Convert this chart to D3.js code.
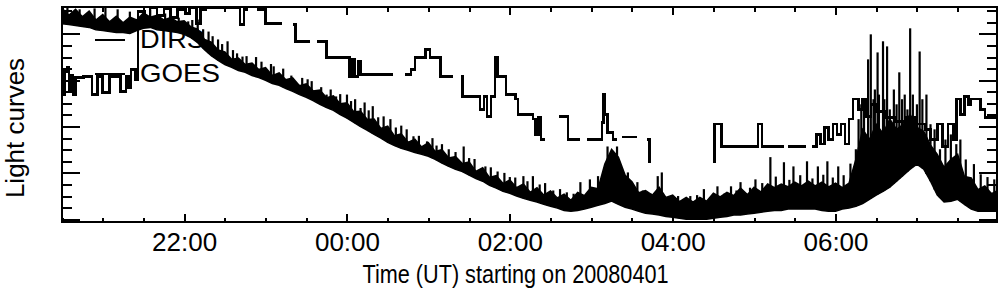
<!DOCTYPE html>
<html>
<head>
<meta charset="utf-8">
<script src="https://cdn.jsdelivr.net/npm/d3@7"></script>
<style>
body { margin: 0; background: #fff; }
text { font-family: "Liberation Sans", Arial, sans-serif; fill: #000; }
</style>
</head>
<body>
<div id="chart"></div>
<script>
// light curve every 5 minutes: lower edge and top of the dense part of the trace
var irsTime = ["20:30","20:35","20:40","20:45","20:50","20:55","21:00","21:05","21:10","21:15","21:20","21:25",
  "21:30","21:35","21:40","21:45","21:50","21:55","22:00","22:05","22:10","22:15","22:20","22:25",
  "22:30","22:35","22:40","22:45","22:50","22:55","23:00","23:05","23:10","23:15","23:20","23:25",
  "23:30","23:35","23:40","23:45","23:50","23:55","00:00","00:05","00:10","00:15","00:20","00:25",
  "00:30","00:35","00:40","00:45","00:50","00:55","01:00","01:05","01:10","01:15","01:20","01:25",
  "01:30","01:35","01:40","01:45","01:50","01:55","02:00","02:05","02:10","02:15","02:20","02:25",
  "02:30","02:35","02:40","02:45","02:50","02:55","03:00","03:05","03:10","03:15","03:20","03:25",
  "03:30","03:35","03:40","03:45","03:50","03:55","04:00","04:05","04:10","04:15","04:20","04:25",
  "04:30","04:35","04:40","04:45","04:50","04:55","05:00","05:05","05:10","05:15","05:20","05:25",
  "05:30","05:35","05:40","05:45","05:50","05:55","06:00","06:05","06:10","06:15","06:20","06:25",
  "06:30","06:35","06:40","06:45","06:50","06:55","07:00","07:05","07:10","07:15","07:20","07:25",
  "07:30","07:35","07:40","07:45","07:50","07:55","08:00"];
var irsLow = [4.22,4.20,4.18,4.16,4.14,4.09,4.07,4.05,4.03,4.03,4.01,4.07,
  4.12,4.14,4.09,4.07,4.05,4.03,3.99,3.92,3.81,3.66,3.53,3.43,
  3.34,3.28,3.21,3.17,3.10,3.06,3.00,2.93,2.89,2.82,2.76,2.69,
  2.63,2.56,2.48,2.41,2.35,2.26,2.18,2.09,2.00,1.92,1.83,1.75,
  1.66,1.59,1.53,1.49,1.44,1.40,1.36,1.29,1.21,1.14,1.08,1.03,
  0.95,0.88,0.82,0.73,0.67,0.60,0.56,0.50,0.45,0.41,0.37,0.32,
  0.28,0.24,0.19,0.17,0.19,0.22,0.26,0.30,0.34,0.39,0.32,0.26,
  0.22,0.17,0.13,0.11,0.09,0.06,0.04,0.02,0.00,0.00,0.00,0.00,
  0.02,0.04,0.06,0.09,0.09,0.11,0.13,0.15,0.17,0.19,0.19,0.22,
  0.22,0.22,0.22,0.22,0.19,0.17,0.17,0.22,0.24,0.28,0.34,0.43,
  0.52,0.60,0.69,0.82,0.95,1.08,1.19,1.08,0.82,0.52,0.37,0.39,
  0.43,0.32,0.22,0.17,0.17,0.17,0.17];
var irsHigh = [4.55,4.40,4.53,4.37,4.49,4.30,4.42,4.26,4.38,4.24,4.36,4.30,
  4.45,4.36,4.40,4.30,4.35,4.26,4.28,4.15,4.10,3.88,3.82,3.65,
  3.61,3.45,3.48,3.34,3.37,3.23,3.27,3.10,3.16,3.01,3.05,2.88,
  2.92,2.77,2.79,2.62,2.66,2.49,2.51,2.32,2.33,2.15,2.16,1.96,
  2.01,1.80,1.84,1.66,1.73,1.56,1.65,1.46,1.50,1.32,1.35,1.20,
  1.24,1.03,1.11,0.90,0.94,0.77,0.85,0.68,0.76,0.58,0.68,0.52,
  0.61,0.46,0.54,0.41,0.58,0.51,0.69,0.66,1.19,1.51,1.34,0.95,
  0.81,0.57,0.62,0.52,0.69,0.47,0.52,0.38,0.47,0.37,0.47,0.39,
  0.56,0.48,0.58,0.51,0.67,0.53,0.69,0.59,0.76,0.68,0.76,0.70,
  0.80,0.72,0.82,0.72,0.80,0.70,0.78,0.68,0.78,1.29,1.94,1.72,
  2.05,1.85,2.16,1.94,2.05,2.26,1.98,1.90,1.60,1.40,1.12,1.29,
  1.40,0.92,0.89,0.64,0.72,0.55,0.63];

// single-sample spikes rising out of the trace
var spikeTime = ["20:34","20:43","20:54","21:02","21:11","21:20","21:35","21:46","21:56","22:03","22:10","22:18",
  "22:25","22:32","22:43","22:49","23:00","23:09","23:16","23:24","23:31","23:38","23:45","23:52",
  "00:00","00:06","00:13","00:19","00:27","00:32","00:44","00:49","00:59","01:06","01:15","01:26",
  "01:38","01:42","01:51","02:00","02:10","02:17","02:26","02:37","02:52","02:59","03:05","03:12",
  "03:19","03:27","03:34","03:49","03:52","04:04","04:13","04:23","04:33","04:43","04:50","05:01",
  "05:12","05:22","05:29","05:39","05:47","05:54","06:02",
  "06:15","06:17","06:19","06:21","06:24","06:26","06:28","06:29","06:31","06:32","06:35","06:36",
  "06:38","06:40","06:43","06:45","06:47","06:49","06:51","06:53","06:55","06:57","07:00","07:02",
  "07:04","07:07","07:10","07:13","07:17","07:21","07:25","07:29","07:32","07:36","07:42","07:47",
  "07:52","07:57",
  "22:06","22:14","22:21","22:28","22:36","22:39","22:46","22:53","22:57","23:04","23:06","23:13",
  "23:19","23:27","23:34","23:41","23:48","23:55","00:03","00:10","00:16","00:23","00:36","00:40",
  "00:53","01:03","01:10","01:20","01:30","01:34","01:46","01:56","02:04","02:13","02:22","02:32",
  "02:42","02:47","03:38","03:44","03:58","04:08","04:18","04:28","04:38","04:47","04:57","05:06",
  "05:16","05:26","05:34","05:43","05:51","05:58","06:06","06:11"];
var spikePeak = [4.57,4.53,4.55,4.57,4.53,4.48,4.53,4.44,4.35,4.27,4.31,4.05,
  3.88,3.84,3.51,3.28,3.23,3.12,2.95,2.91,3.02,2.76,2.69,2.65,
  2.69,2.59,2.52,2.44,2.22,2.16,1.94,1.79,1.68,1.59,1.51,1.57,
  1.08,1.14,1.03,0.91,0.93,0.93,0.78,0.65,0.80,0.86,0.93,1.57,
  1.57,1.01,0.80,0.93,1.01,0.50,0.50,0.65,0.71,0.71,0.80,0.86,
  1.34,1.23,1.14,1.25,1.14,1.25,1.14,
  1.51,2.16,2.48,2.59,3.45,3.99,2.59,2.80,3.60,2.69,3.84,2.59,
  3.73,2.37,2.80,2.48,3.17,2.59,2.69,2.37,4.12,2.69,2.48,3.62,
  2.59,2.69,2.05,1.94,1.51,1.72,1.83,1.62,1.72,1.29,1.19,0.97,
  0.91,0.86,
  4.30,4.10,3.95,3.78,3.65,3.58,3.52,3.50,3.40,3.35,3.30,3.25,
  3.10,3.05,2.98,2.85,2.80,2.70,2.55,2.40,2.35,2.20,1.98,2.02,
  1.80,1.75,1.62,1.45,1.32,1.30,1.12,1.00,0.90,0.82,0.75,0.62,
  0.58,0.55,0.62,0.55,0.45,0.42,0.52,0.48,0.55,0.62,0.68,0.78,
  0.92,0.85,0.95,0.88,0.96,0.90,0.95,1.20];

// GOES curve, step values; null marks a data gap
var goesTime = ["20:30","20:31","20:32","20:34","20:35","20:37","20:38","20:40","20:46","20:52","20:56",
  "21:00","21:05","21:13","21:17","21:19","21:21","21:24","21:26","21:31","21:35","21:40","21:45",
  "21:50","21:55","22:01","22:04","22:09","22:12","22:16","22:41","22:44","22:47","22:48",
  "22:54","23:00","23:12","23:13","23:20","23:22","23:33","23:34","23:38","23:45",
  "00:02","00:04","00:06","00:08","00:10","00:34","00:35","00:43","00:47","00:50","00:58","01:01",
  "01:09","01:18","01:19","01:24","01:25","01:38","01:41","01:43","01:46","01:49","01:51","01:57",
  "02:04","02:06","02:17","02:19","02:21","02:23","02:26","02:27","02:36","02:43","02:52","02:53",
  "02:57","03:08","03:09","03:10","03:12","03:16","03:19","03:20","03:23","03:34","03:35",
  "03:41","03:43","03:44","03:45","04:30","04:31","04:36","05:03","05:06","05:22","05:23",
  "05:25","05:38","05:39","05:43","05:46","05:49","05:52","05:55","05:58","06:01","06:04",
  "06:07","06:10","06:13","06:17","06:20","06:23","06:26","06:30","06:37","06:44","06:52",
  "06:59","07:06","07:10","07:15","07:19","07:23","07:27","07:29","07:32","07:35","07:38",
  "07:40","07:47","07:50","08:00"];
var goesValue = [3.02,2.69,3.19,3.28,2.76,3.10,2.69,3.06,3.08,2.69,3.08,
  2.74,3.08,2.76,3.08,2.84,3.23,3.02,4.48,4.31,4.57,4.40,4.55,
  4.35,4.53,4.44,4.57,4.22,4.53,4.57,4.20,4.53,4.53,null,
  4.53,4.22,4.22,null,4.20,3.84,3.84,null,3.84,3.49,
  3.08,3.45,3.08,3.40,3.12,3.12,null,3.12,3.23,3.49,3.66,3.49,
  3.08,3.08,null,3.08,2.65,2.37,2.65,2.22,2.65,3.49,3.08,2.69,
  2.59,2.26,2.16,1.83,2.20,1.72,1.72,null,2.22,1.72,1.72,null,
  1.72,2.09,2.69,2.26,1.87,1.72,1.72,null,1.77,1.77,null,
  1.72,1.23,1.23,null,1.23,2.05,1.57,2.05,1.57,1.57,null,
  1.57,1.57,null,1.57,1.83,1.62,1.98,1.72,2.05,1.83,2.05,
  1.62,2.16,2.59,2.37,2.59,2.22,2.48,2.33,2.20,2.11,2.20,
  2.05,1.94,1.72,2.05,1.57,2.05,1.72,2.59,2.26,2.65,2.48,
  2.59,2.37,2.20,2.20];

var legendNames = ["DIRS", "GOES"];
var legendWidths = [65, 80];
var xTitle = "Time (UT) starting on 20080401";
var yTitle = "Light curves";
var timeStart = "20:30", timeEnd = "07:59";
var yMajor = [0, 1, 2, 3, 4];

// times before noon belong to the next day (2008-04-02)
function toDate(s) {
    var h = +s.slice(0, 2), m = +s.slice(3, 5);
    return new Date(Date.UTC(2008, 3, h < 12 ? 2 : 1, h, m));
}

var W = 1004, H = 296;
var margin = {top: 7, right: 7, bottom: 74, left: 62},
    width = W - margin.left - margin.right,
    height = H - margin.top - margin.bottom;

var svg = d3.select("#chart").append("svg")
    .attr("width", W).attr("height", H);

var g = svg.append("g")
    .attr("transform", "translate(" + margin.left + "," + margin.top + ")");

var x = d3.scaleUtc()
    .domain([toDate(timeStart), toDate(timeEnd)])
    .range([0, width]);

var y = d3.scaleLinear()
    .domain([-0.06, 4.58])
    .range([height, 0]);

g.append("clipPath").attr("id", "clip")
  .append("rect").attr("width", width).attr("height", height);

// legend sits under the curves
var legend = g.append("g");
legendNames.forEach(function(name, i) {
    var ly = 33 + i * 34;
    legend.append("line")
        .attr("x1", 33).attr("x2", 63)
        .attr("y1", ly).attr("y2", ly)
        .attr("stroke", "#000").attr("stroke-width", 2);
    legend.append("text")
        .attr("x", 78).attr("y", ly + 8)
        .style("font-size", "25px")
        .attr("textLength", legendWidths[i]).attr("lengthAdjust", "spacingAndGlyphs")
        .text(name);
});

var plot = g.append("g").attr("clip-path", "url(#clip)");

var irs = irsTime.map(function(t, i) { return {t: toDate(t), lo: irsLow[i], hi: irsHigh[i]}; });

plot.append("path")
    .datum(irs)
    .attr("fill", "#000")
    .attr("stroke", "#000")
    .attr("stroke-width", 1.5)
    .attr("d", d3.area()
        .x(function(d) { return x(d.t); })
        .y0(function(d) { return y(d.lo); })
        .y1(function(d) { return y(d.hi); }));

// the trace's lower edge, used as the foot of each spike
var lowAt = d3.scaleLinear()
    .domain(irs.map(function(d) { return d.t; }))
    .range(irsLow);

plot.append("g").selectAll("line")
    .data(spikeTime.map(function(t, i) { return {t: toDate(t), v: spikePeak[i]}; }))
    .join("line")
    .attr("x1", function(d) { return x(d.t); })
    .attr("x2", function(d) { return x(d.t); })
    .attr("y1", function(d) { return y(lowAt(d.t)); })
    .attr("y2", function(d) { return y(d.v); })
    .attr("stroke", "#000")
    .attr("stroke-width", 2.2);

plot.append("path")
    .datum(goesTime.map(function(t, i) { return {t: toDate(t), v: goesValue[i]}; }))
    .attr("fill", "none")
    .attr("stroke", "#000")
    .attr("stroke-width", 2.5)
    .attr("shape-rendering", "crispEdges")
    .attr("d", d3.line()
        .defined(function(d) { return d.v !== null; })
        .curve(d3.curveStepAfter)
        .x(function(d) { return x(d.t); })
        .y(function(d) { return y(d.v); }));

// axes: ticks point inward, IDL style
function styleAxis(sel) {
    sel.select(".domain").remove();
    sel.selectAll("line").attr("stroke", "#000").attr("stroke-width", 2)
        .attr("shape-rendering", "crispEdges");
}

var minorT = d3.utcMinute.every(30), majorT = d3.utcHour.every(2);

g.append("g").attr("transform", "translate(0," + height + ")")
    .call(d3.axisBottom(x).ticks(minorT).tickSize(-4).tickFormat(""))
    .call(styleAxis);
g.append("g").attr("transform", "translate(0," + height + ")")
    .call(d3.axisBottom(x).ticks(majorT).tickSize(-8).tickPadding(11)
        .tickFormat(d3.utcFormat("%H:%M")))
    .call(styleAxis)
    .selectAll("text").style("font-size", "26px");

g.append("g")
    .call(d3.axisTop(x).ticks(minorT).tickSize(-5).tickFormat(""))
    .call(styleAxis);
g.append("g")
    .call(d3.axisTop(x).ticks(majorT).tickSize(-8).tickFormat(""))
    .call(styleAxis);

var yMinor = d3.range(0, 4.6, 0.25);
g.append("g")
    .call(d3.axisLeft(y).tickValues(yMinor).tickSize(-10).tickFormat(""))
    .call(styleAxis);
g.append("g")
    .call(d3.axisLeft(y).tickValues(yMajor).tickSize(-18).tickFormat(""))
    .call(styleAxis);
g.append("g").attr("transform", "translate(" + width + ",0)")
    .call(d3.axisRight(y).tickValues(yMinor).tickSize(-10).tickFormat(""))
    .call(styleAxis);
g.append("g").attr("transform", "translate(" + width + ",0)")
    .call(d3.axisRight(y).tickValues(yMajor).tickSize(-18).tickFormat(""))
    .call(styleAxis);

g.append("rect")
    .attr("width", width).attr("height", height)
    .attr("fill", "none").attr("stroke", "#000").attr("stroke-width", 2)
    .attr("shape-rendering", "crispEdges");

svg.append("text")
    .attr("x", margin.left + width / 2 - 14).attr("y", 283)
    .attr("text-anchor", "middle")
    .style("font-size", "26px")
    .attr("textLength", 306).attr("lengthAdjust", "spacingAndGlyphs")
    .text(xTitle);

svg.append("text")
    .attr("transform", "translate(24,128) rotate(-90)")
    .attr("text-anchor", "middle")
    .style("font-size", "26px")
    .text(yTitle);
</script>
</body>
</html>
